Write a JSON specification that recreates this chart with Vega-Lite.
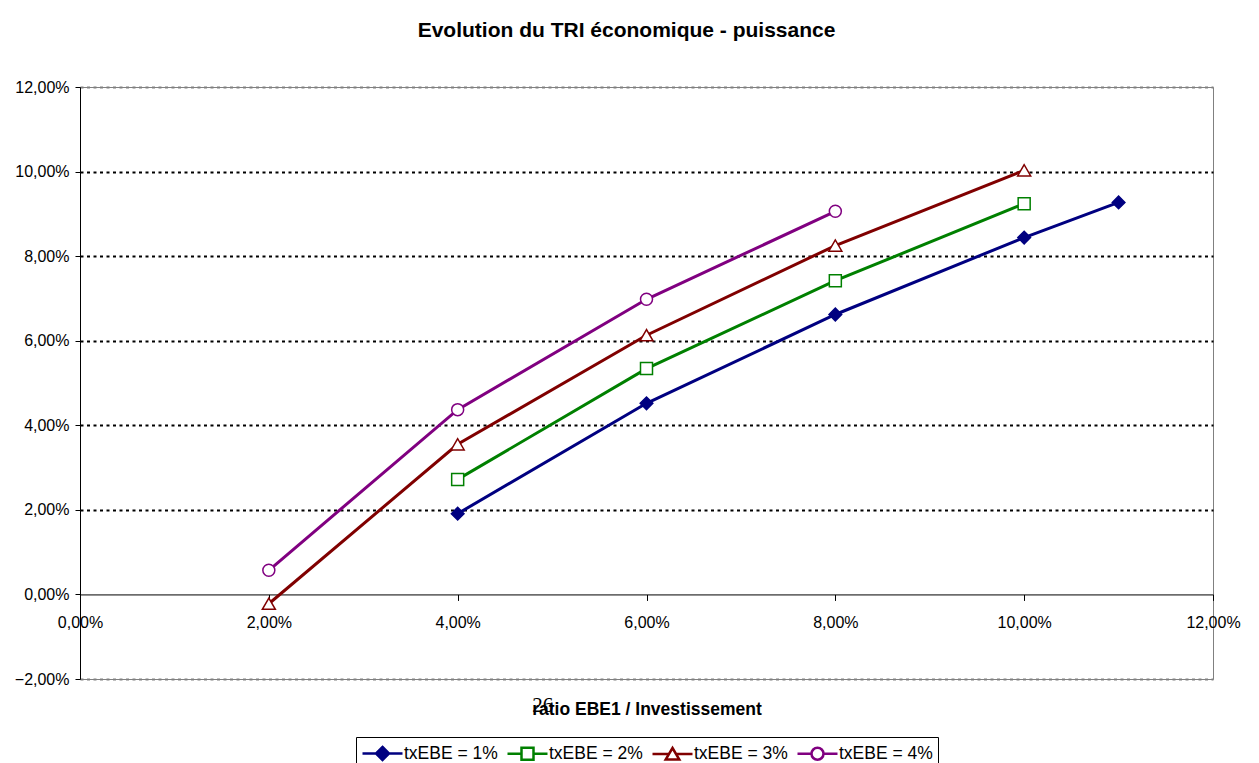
{
  "$schema": "https://vega.github.io/schema/vega-lite/v6.json",
  "width": 1133,
  "height": 592,
  "autosize": "none",
  "padding": {"left": 80, "top": 87, "right": 46, "bottom": 84},
  "title": {"text": "Evolution du TRI économique - puissance", "fontSize": 21, "fontWeight": "bold", "font": "Liberation Sans", "color": "black", "offset": 38, "dx": -20, "anchor": "middle", "frame": "group"},
  "datasets": {
    "pts": [
      {"series": "txEBE = 1%", "x": 0.04, "y": 0.0191},
      {"series": "txEBE = 1%", "x": 0.06, "y": 0.0452},
      {"series": "txEBE = 1%", "x": 0.08, "y": 0.0662},
      {"series": "txEBE = 1%", "x": 0.10, "y": 0.0844},
      {"series": "txEBE = 1%", "x": 0.11, "y": 0.0927},
      {"series": "txEBE = 2%", "x": 0.04, "y": 0.0272},
      {"series": "txEBE = 2%", "x": 0.06, "y": 0.0534},
      {"series": "txEBE = 2%", "x": 0.08, "y": 0.0742},
      {"series": "txEBE = 2%", "x": 0.10, "y": 0.0924},
      {"series": "txEBE = 3%", "x": 0.02, "y": -0.0022},
      {"series": "txEBE = 3%", "x": 0.04, "y": 0.0355},
      {"series": "txEBE = 3%", "x": 0.06, "y": 0.0613},
      {"series": "txEBE = 3%", "x": 0.08, "y": 0.0825},
      {"series": "txEBE = 3%", "x": 0.10, "y": 0.1003},
      {"series": "txEBE = 4%", "x": 0.02, "y": 0.0057},
      {"series": "txEBE = 4%", "x": 0.04, "y": 0.0437},
      {"series": "txEBE = 4%", "x": 0.06, "y": 0.0698},
      {"series": "txEBE = 4%", "x": 0.08, "y": 0.0906}
    ],
    "note": [{"x": 0.049, "y": -0.0265, "t": "26"}]
  },
  "encoding": {
    "x": {"field": "x", "type": "quantitative", "scale": {"domain": [0, 0.12], "nice": false, "zero": false},
      "axis": {"values": [0, 0.02, 0.04, 0.06, 0.08, 0.1, 0.12], "format": ".2%", "offset": -84.57, "tickSize": 6, "labelPadding": 14, "grid": false, "labelFlush": false, "labelOverlap": false, "labelBound": false, "title": "ratio EBE1 / Investissement", "titleFontWeight": "bold", "titleFontSize": 17.5, "titlePadding": 70}},
    "y": {"field": "y", "type": "quantitative", "scale": {"domain": [-0.02, 0.12], "nice": false, "zero": false},
      "axis": {"values": [-0.02, 0, 0.02, 0.04, 0.06, 0.08, 0.1, 0.12], "format": ".2%", "tickSize": 5, "labelPadding": 6, "title": null, "grid": true, "labelFlush": false, "labelOverlap": false,
        "gridColor": {"condition": [{"test": "abs(datum.value) < 0.0001", "value": "transparent"}, {"test": "datum.value > 0.119 || datum.value < -0.019", "value": "#808080"}], "value": "black"},
        "gridDash": [3, 3.5], "gridWidth": 2}}
  },
  "layer": [
    {
      "data": {"name": "pts"},
      "mark": {"type": "line", "strokeWidth": 3},
      "encoding": {
        "color": {"field": "series", "type": "nominal",
          "scale": {"domain": ["txEBE = 1%", "txEBE = 2%", "txEBE = 3%", "txEBE = 4%"], "range": ["#000080", "#008000", "#800000", "#800080"]},
          "legend": {"title": null, "orient": "none", "legendX": 276, "legendY": 650, "direction": "horizontal", "columns": 4,
            "symbolSize": 400, "symbolOffset": 10, "labelOffset": 10, "columnPadding": 4, "padding": 5,
            "labelFontSize": 17.5, "labelFont": "Liberation Sans", "labelColor": "black", "strokeColor": "black", "fillColor": "white",
            "encode": {"symbols": {"update": {
              "shape": {"signal": "datum.value === 'txEBE = 1%' ? 'M-2,0H2M0,-0.65L0.65,0L0,0.65L-0.65,0Z' : datum.value === 'txEBE = 2%' ? 'M-2,0H-0.6M0.6,0H2M-0.6,-0.6H0.6V0.6H-0.6Z' : datum.value === 'txEBE = 3%' ? 'M-2,0H-0.33M0.33,0H2M0,-0.6L0.68,0.55H-0.68Z' : 'M-2,0H-0.6M0.6,0H2M0.6,0A0.6 0.6 0 1 1 -0.6 0A0.6 0.6 0 1 1 0.6 0Z'"},
              "fill": {"signal": "datum.value === 'txEBE = 1%' ? '#000080' : 'white'"},
              "stroke": {"scale": "color", "field": "value"},
              "strokeWidth": {"value": 2.5},
              "opacity": {"value": 1}
            }}}
          }}
      }
    },
    {
      "data": {"name": "pts"},
      "transform": [{"filter": "datum.series === 'txEBE = 1%'"}],
      "mark": {"type": "point", "shape": "diamond", "size": 160, "strokeWidth": 1.5, "opacity": 1, "filled": true, "fill": "#000080", "stroke": "#000080"}
    },
    {
      "data": {"name": "pts"},
      "transform": [{"filter": "datum.series === 'txEBE = 2%'"}],
      "mark": {"type": "point", "shape": "square", "size": 144, "strokeWidth": 1.5, "opacity": 1, "fill": "white", "stroke": "#008000"}
    },
    {
      "data": {"name": "pts"},
      "transform": [{"filter": "datum.series === 'txEBE = 3%'"}],
      "mark": {"type": "point", "shape": "triangle-up", "size": 169, "strokeWidth": 1.5, "opacity": 1, "fill": "white", "stroke": "#800000"}
    },
    {
      "data": {"name": "pts"},
      "transform": [{"filter": "datum.series === 'txEBE = 4%'"}],
      "mark": {"type": "point", "shape": "circle", "size": 144, "strokeWidth": 1.5, "opacity": 1, "fill": "white", "stroke": "#800080"}
    },
    {
      "data": {"name": "note"},
      "mark": {"type": "text", "font": "Liberation Serif", "fontSize": 21, "color": "black", "baseline": "middle", "align": "center"},
      "encoding": {"text": {"field": "t"}}
    }
  ],
  "config": {
    "locale": {"number": {"decimal": ",", "thousands": " ", "grouping": [3], "currency": ["", " €"]}},
    "font": "Liberation Sans",
    "view": {"stroke": "#808080", "strokeWidth": 1},
    "axis": {"labelFontSize": 16, "labelFont": "Liberation Sans", "labelColor": "black", "domainColor": "black", "tickColor": "black", "titleColor": "black", "titleFont": "Liberation Sans"}
  }
}
